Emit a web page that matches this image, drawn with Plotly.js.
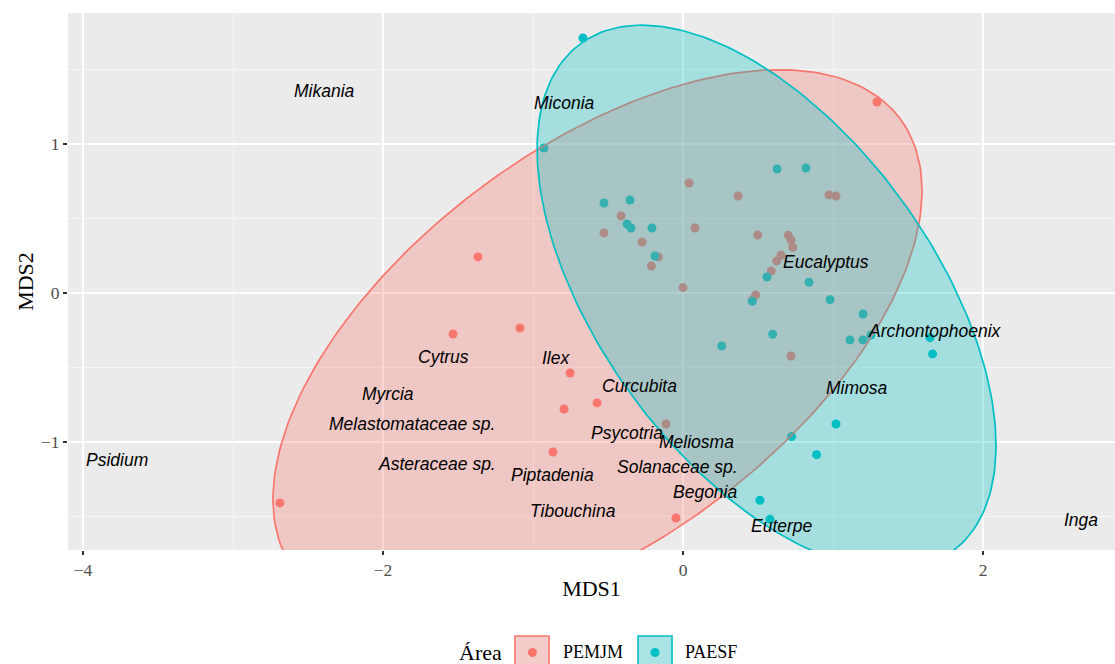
<!DOCTYPE html>
<html>
<head>
<meta charset="utf-8">
<script src="https://cdn.plot.ly/plotly-3.0.1.min.js"></script>
<style>html,body{margin:0;padding:0;background:#fff;}#chart{width:1115px;height:664px;}</style>
</head>
<body>
<div id="chart"></div>
<script>
// ---- Data: NMDS site scores by area ----
const pemjmX = [1.293, -1.367, -1.533, -1.087, -0.753, -0.573, -0.793, -0.867, -2.687, -0.047, -0.113,
  0.040, 0.367, 0.973, 1.020, -0.413, -0.527, -0.273, 0.080, -0.164, -0.211, 0.000, 0.498, 0.702,
  0.720, 0.731, 0.653, 0.624, 0.589, 0.484, 0.462, 0.720];
const pemjmY = [1.282, 0.242, -0.275, -0.235, -0.537, -0.738, -0.779, -1.067, -1.409, -1.510, -0.879,
  0.738, 0.651, 0.658, 0.651, 0.517, 0.403, 0.342, 0.436, 0.242, 0.181, 0.036, 0.389, 0.387,
  0.356, 0.307, 0.253, 0.215, 0.148, -0.013, -0.047, -0.423];
const paesfX = [-0.667, -0.927, -0.527, -0.353, -0.373, -0.347, -0.207, -0.187, 0.627, 0.820, 0.560,
  0.840, 0.980, 1.200, 0.462, 0.258, 0.598, 1.113, 1.200, 1.253, 1.647, 1.664, 1.020, 0.724, 0.891,
  0.513, 0.580];
const paesfY = [1.711, 0.973, 0.604, 0.624, 0.463, 0.436, 0.436, 0.248, 0.832, 0.839, 0.107,
  0.072, -0.045, -0.141, -0.056, -0.356, -0.277, -0.315, -0.315, -0.282, -0.300, -0.409, -0.879, -0.964, -1.085,
  -1.391, -1.519];

// ---- Species scores ----
const speciesNames = ["Mikania", "Miconia", "Eucalyptus", "Archontophoenix", "Cytrus", "Ilex", "Curcubita",
  "Myrcia", "Mimosa", "Melastomataceae sp.", "Psycotria", "Meliosma", "Psidium", "Asteraceae sp.",
  "Piptadenia", "Solanaceae sp.", "Begonia", "Tibouchina", "Euterpe", "Inga"];
const speciesX = [-2.393, -0.787, 0.953, 1.680, -1.600, -0.847, -0.287, -1.967, 1.160, -1.807, -0.373,
  0.093, -3.773, -1.640, -0.873, -0.040, 0.147, -0.733, 0.660, 2.653];
const speciesY = [1.356, 1.275, 0.208, -0.255, -0.430, -0.436, -0.624, -0.678, -0.638, -0.879, -0.940,
  -1.000, -1.121, -1.148, -1.221, -1.168, -1.336, -1.463, -1.564, -1.523];

// ---- 95% ellipses: centre x, centre y, semi-major, semi-minor, angle (deg) ----
const ellipsePEMJM = [-0.570, -0.349, 2.525, 1.311, 37.1];
const ellipsePAESF = [0.557, -0.030, 2.107, 1.113, -54.1];

const groupNames = ["PEMJM", "PAESF"];
const xTicks = [-4, -2, 0, 2];
const yTicks = [-1, 0, 1];

function ellipsePath(p, n) {
  const [cx, cy, a, b, deg] = p;
  const th = deg * Math.PI / 180;
  const xs = [], ys = [];
  for (let i = 0; i <= n; i++) {
    const t = 2 * Math.PI * i / n;
    xs.push(cx + a * Math.cos(t) * Math.cos(th) - b * Math.sin(t) * Math.sin(th));
    ys.push(cy + a * Math.cos(t) * Math.sin(th) + b * Math.sin(t) * Math.cos(th));
  }
  return {x: xs, y: ys};
}

const RED = '#F8766D', CYAN = '#00BFC4';
const eR = ellipsePath(ellipsePEMJM, 240);
const eC = ellipsePath(ellipsePAESF, 240);

const traces = [
  {type: 'scatter', mode: 'markers', x: pemjmX, y: pemjmY, name: groupNames[0],
   marker: {color: RED, size: 9}, showlegend: false, hoverinfo: 'skip'},
  {type: 'scatter', mode: 'markers', x: paesfX, y: paesfY, name: groupNames[1],
   marker: {color: CYAN, size: 9}, showlegend: false, hoverinfo: 'skip'},
  {type: 'scatter', mode: 'lines', x: eR.x, y: eR.y, fill: 'toself',
   fillcolor: 'rgba(248,118,109,0.3)', line: {color: RED, width: 1.7}, showlegend: false, hoverinfo: 'skip'},
  {type: 'scatter', mode: 'lines', x: eC.x, y: eC.y, fill: 'toself',
   fillcolor: 'rgba(0,191,196,0.3)', line: {color: CYAN, width: 1.7}, showlegend: false, hoverinfo: 'skip'}
];

// layout geometry (pixels)
const L = 68, R = 0, T = 13, B = 114, W = 1115, H = 664;
const pw = W - L - R, ph = H - T - B;
const px = v => (v - L) / pw;
const py = v => (H - B - v) / ph;

const serif = 'Liberation Serif, Times New Roman, serif';
const sansItalic = {family: 'Liberation Sans, Arial, sans-serif', size: 17.5, style: 'italic', color: '#000'};

const shapes = [
  {type: 'rect', xref: 'paper', yref: 'paper', x0: px(515), x1: px(549), y0: py(636), y1: py(670),
   fillcolor: '#F4CDCA', line: {color: RED, width: 1.6}},
  {type: 'rect', xref: 'paper', yref: 'paper', x0: px(638), x1: px(672), y0: py(636), y1: py(670),
   fillcolor: '#A9E3E4', line: {color: CYAN, width: 1.6}},
  {type: 'circle', xref: 'paper', yref: 'paper', xsizemode: 'pixel', ysizemode: 'pixel',
   xanchor: px(532.5), yanchor: py(652.5), x0: -4.5, x1: 4.5, y0: -4.5, y1: 4.5,
   fillcolor: RED, line: {width: 0}},
  {type: 'circle', xref: 'paper', yref: 'paper', xsizemode: 'pixel', ysizemode: 'pixel',
   xanchor: px(655), yanchor: py(652.5), x0: -4.5, x1: 4.5, y0: -4.5, y1: 4.5,
   fillcolor: CYAN, line: {width: 0}}
];

const annotations = speciesNames.map((s, i) => ({
  xref: 'x', yref: 'y', x: speciesX[i], y: speciesY[i], text: s, showarrow: false,
  xanchor: 'center', yanchor: 'middle', yshift: 0, font: sansItalic
})).concat([
  {xref: 'paper', yref: 'paper', x: px(457), y: py(652), xanchor: 'left', yanchor: 'middle',
   text: 'Área', showarrow: false, font: {family: serif, size: 22, color: '#000'}},
  {xref: 'paper', yref: 'paper', x: px(561), y: py(652), xanchor: 'left', yanchor: 'middle',
   text: groupNames[0], showarrow: false, font: {family: serif, size: 18, color: '#000'}},
  {xref: 'paper', yref: 'paper', x: px(683), y: py(652), xanchor: 'left', yanchor: 'middle',
   text: groupNames[1], showarrow: false, font: {family: serif, size: 18, color: '#000'}}
]);

const axisCommon = {
  showline: false, zeroline: false, showgrid: true, gridcolor: '#FFFFFF', gridwidth: 1.1,
  ticks: 'outside', ticklen: 4, tickwidth: 1.1, tickcolor: '#333333',
  tickfont: {family: serif, size: 17.5, color: '#4D4D4D'},
  automargin: false, fixedrange: true
};

const layout = {
  width: W, height: H,
  margin: {l: L, r: R, t: T, b: B},
  paper_bgcolor: '#FFFFFF', plot_bgcolor: '#EBEBEB',
  showlegend: false,
  xaxis: Object.assign({}, axisCommon, {
    range: [-4.1, 2.88], tickvals: xTicks, ticktext: xTicks.map(v => v < 0 ? '\u2212' + Math.abs(v) : String(v)),
    minor: {dtick: 1, tick0: 0, showgrid: true, gridcolor: '#FFFFFF', gridwidth: 0.55, ticks: ''},
    title: {text: 'MDS1', font: {family: serif, size: 22, color: '#000'}, standoff: 1}
  }),
  yaxis: Object.assign({}, axisCommon, {
    range: [-1.725, 1.879], tickvals: yTicks, ticktext: yTicks.map(v => v < 0 ? '\u2212' + Math.abs(v) : String(v)),
    minor: {dtick: 0.5, tick0: 0, showgrid: true, gridcolor: '#FFFFFF', gridwidth: 0.55, ticks: ''},
    title: {text: 'MDS2', font: {family: serif, size: 22, color: '#000'}, standoff: 1}
  }),
  shapes: shapes,
  annotations: annotations
};

Plotly.newPlot('chart', traces, layout, {staticPlot: true, displayModeBar: false});
</script>
</body>
</html>
